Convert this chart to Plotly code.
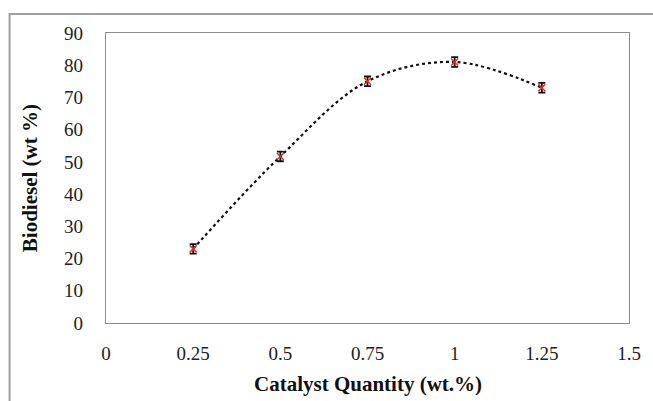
import plotly.graph_objects as go

# Biodiesel yield vs catalyst loading
catalyst = [0.25, 0.5, 0.75, 1.0, 1.25]
biodiesel = [23, 51.7, 75, 81, 73]
err = [1.5, 1.5, 1.5, 1.5, 1.5]

x_ticks = [0, 0.25, 0.5, 0.75, 1, 1.25, 1.5]
x_ticktext = ["0", "0.25", "0.5", "0.75", "1", "1.25", "1.5"]
y_ticks = [0, 10, 20, 30, 40, 50, 60, 70, 80, 90]

serif = "Liberation Serif, Times New Roman, serif"

fig = go.Figure()

# dotted smooth trend through the measured points
fig.add_trace(go.Scatter(
    x=catalyst, y=biodiesel, mode="lines",
    line=dict(color="#111111", width=2.2, dash="dot", shape="spline", smoothing=1.0),
    hoverinfo="skip", showlegend=False,
))

# measured points with error bars
fig.add_trace(go.Scatter(
    x=catalyst, y=biodiesel, mode="markers",
    marker=dict(symbol="x-thin", size=7, line=dict(color="#e03030", width=1.5)),
    error_y=dict(type="data", array=err, visible=True, color="#111111",
                 thickness=1.8, width=3.5),
    showlegend=False,
))

fig.update_layout(
    width=653, height=401,
    margin=dict(l=106, r=21, t=33, b=78),
    paper_bgcolor="white", plot_bgcolor="white",
    font=dict(family=serif, size=19, color="#222222"),
    xaxis=dict(
        range=[0, 1.5], tickvals=x_ticks, ticktext=x_ticktext,
        showgrid=False, zeroline=False, showline=True, mirror=True,
        linecolor="#8c8c8c", linewidth=1.3, ticks="", ticklabelstandoff=13,
        tickfont=dict(family=serif, size=19, color="#222222"),
    ),
    yaxis=dict(
        range=[0, 90], tickvals=y_ticks,
        showgrid=False, zeroline=False, showline=True, mirror=True,
        linecolor="#8c8c8c", linewidth=1.3, ticks="", ticklabelstandoff=18,
        tickfont=dict(family=serif, size=19, color="#222222"),
    ),
    annotations=[
        dict(text="<b>Catalyst Quantity (wt.%)</b>", xref="paper", yref="paper",
             x=0.5, y=-0.21, xanchor="center", yanchor="middle", showarrow=False,
             font=dict(family=serif, size=21, color="#111111")),
        dict(text="<b>Biodiesel (wt %)</b>", xref="paper", yref="paper",
             x=-0.145, y=0.5, xanchor="center", yanchor="middle", showarrow=False,
             textangle=-90, font=dict(family=serif, size=21, color="#111111")),
    ],
    shapes=[
        # outer chart frame
        dict(type="rect", xref="paper", yref="paper",
             x0=-0.1844, y0=-0.5, x1=1.2, y1=1.0655,
             line=dict(color="#a0a0a0", width=2), layer="below"),
    ],
)

fig.write_html("out.html")
